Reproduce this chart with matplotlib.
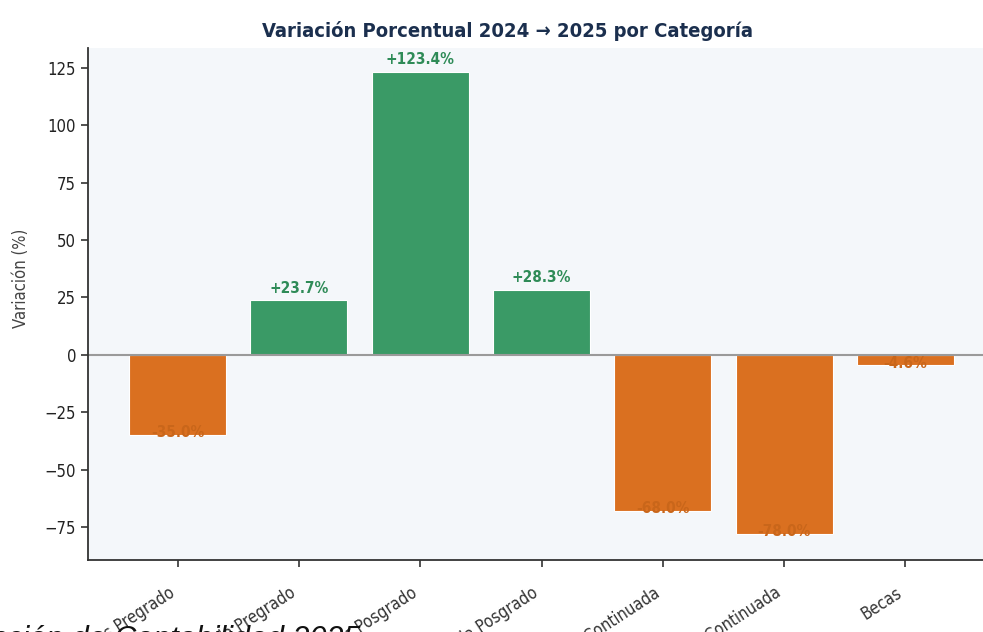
import matplotlib
matplotlib.use("Agg")
import matplotlib.pyplot as plt
import numpy as np

# variación porcentual por categoría, 2024 -> 2025
categorias = ["Ingresos Pregrado", "Matrícula Pregrado", "Ingresos Posgrado",
              "Matrícula Posgrado", "Ingresos Educación Continuada",
              "Matrícula Educación Continuada", "Becas"]
variacion = [-35.0, 23.7, 123.4, 28.3, -68.0, -78.0, -4.6]

verde = "#3a9a66"
naranja = "#da7020"

plt.rcParams["font.family"] = ["DejaVu Sans"]
plt.rcParams["font.stretch"] = "condensed"

fig = plt.figure(figsize=(9.83, 6.32), dpi=100)
ax = fig.add_axes([88 / 983, 1 - 560 / 632, (995 - 88) / 983, (560 - 48) / 632])
ax.set_facecolor("#f4f7fa")

x = np.arange(len(categorias))
colores = [verde if v >= 0 else naranja for v in variacion]
ax.bar(x, variacion, width=0.8, color=colores, edgecolor="white", linewidth=0.8)
ax.axhline(0, color="#9a9a9a", linewidth=1.5)

for xi, v in zip(x, variacion):
    if v >= 0:
        ax.text(xi, v + 2, f"+{v:.1f}%", ha="center", va="bottom",
                fontsize=11, fontweight="bold", color="#2e8b57")
    else:
        ax.text(xi, v + 1, f"{v:.1f}%", ha="center", va="center",
                fontsize=11, fontweight="bold", color="#c9661a")

ax.set_ylim(min(variacion) * 1.145, max(variacion) * 1.083)
ax.set_xticks(x)
ax.set_xticklabels(categorias, rotation=33, ha="right", fontsize=12, color="#333333")
ax.tick_params(axis="x", pad=12)
ax.tick_params(axis="y", labelsize=12, colors="#222222")
ax.tick_params(axis="both", length=5, width=1.2, color="#333333")
ax.set_ylabel("Variación (%)", fontsize=12, color="#444444")
ax.yaxis.set_label_coords(-0.064, 0.55)

for s in ["top", "right"]:
    ax.spines[s].set_visible(False)
for s in ["left", "bottom"]:
    ax.spines[s].set_color("#333333")
    ax.spines[s].set_linewidth(1.3)

ax.set_title("Variación Porcentual 2024 → 2025 por Categoría", fontsize=14.5,
             fontweight="bold", color="#1b2f4e", x=0.463, pad=8)

fig.text(360 / 983, 1 - 625 / 632, "Fuente: Dirección de Contabilidad 2025",
         ha="right", va="top", fontsize=22, style="italic",
         family="Liberation Sans", stretch="normal", color="#111111")

fig.savefig("out.png", dpi=100, facecolor="white")
